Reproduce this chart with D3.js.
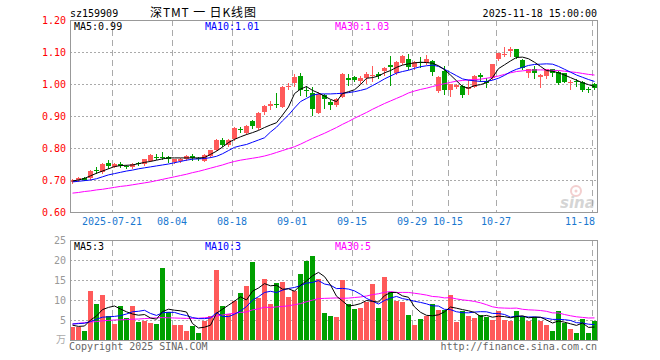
<!DOCTYPE html>
<html><head><meta charset="utf-8">
<script src="https://cdn.jsdelivr.net/npm/d3@7"></script>
<style>
body{margin:0;background:#fff}
svg{display:block}
text{font-family:"DejaVu Sans Mono","Liberation Mono",monospace;font-size:10px}
</style>
</head><body><svg id="c" width="660" height="360"></svg>
<script>
const dates = [
"2025-07-10","2025-07-11","2025-07-14","2025-07-15","2025-07-16","2025-07-17","2025-07-18","2025-07-21","2025-07-22","2025-07-23","2025-07-24","2025-07-25","2025-07-28","2025-07-29","2025-07-30","2025-07-31",
"2025-08-01","2025-08-04","2025-08-05","2025-08-06","2025-08-07","2025-08-08","2025-08-11","2025-08-12","2025-08-13","2025-08-14","2025-08-15","2025-08-18","2025-08-19","2025-08-20","2025-08-21","2025-08-22","2025-08-25","2025-08-26","2025-08-27","2025-08-28","2025-08-29",
"2025-09-01","2025-09-02","2025-09-03","2025-09-04","2025-09-05","2025-09-08","2025-09-09","2025-09-10","2025-09-11","2025-09-12","2025-09-15","2025-09-16","2025-09-17","2025-09-18","2025-09-19","2025-09-22","2025-09-23","2025-09-24","2025-09-25","2025-09-26","2025-09-29","2025-09-30",
"2025-10-09","2025-10-10","2025-10-13","2025-10-14","2025-10-15","2025-10-16","2025-10-17","2025-10-20","2025-10-21","2025-10-22","2025-10-23","2025-10-24","2025-10-27","2025-10-28","2025-10-29","2025-10-30","2025-10-31",
"2025-11-03","2025-11-04","2025-11-05","2025-11-06","2025-11-07","2025-11-10","2025-11-11","2025-11-12","2025-11-13","2025-11-14","2025-11-17","2025-11-18"];

const open = [.695,.700,.706,.705,.730,.725,.754,.742,.750,.745,.740,.752,.750,.760,.772,.772,.771,.755,.760,.765,.776,.768,.760,.775,.795,.825,.810,.828,.860,.847,
.885,.862,.912,.930,.937,.929,.990,1.002,1.026,.981,.973,.910,.966,.943,.934,.960,1.018,1.022,1.009,1.020,1.025,1.032,1.041,1.058,1.033,1.067,1.079,1.052,1.068,1.067,
1.073,.979,1.042,.981,.990,.994,.985,.992,1.027,1.009,1.018,1.078,1.090,1.104,1.108,1.075,1.035,1.046,1.023,1.025,1.046,1.038,1.033,1.005,1.009,1.007,.984,.999];
const high = [.703,.708,.709,.730,.742,.752,.763,.752,.755,.748,.752,.756,.767,.780,.780,.788,.776,.767,.769,.777,.781,.772,.780,.795,.827,.832,.827,.866,.866,.871,
.888,.912,.933,.948,.973,.994,1.002,1.032,1.034,.993,.992,.976,.970,.950,.955,1.033,1.030,1.025,1.024,1.036,1.055,1.036,1.054,1.087,1.071,1.092,1.093,1.072,1.083,1.092,
1.076,1.025,1.055,1.000,.999,.996,1.012,1.027,1.034,1.018,1.064,1.098,1.115,1.115,1.110,1.077,1.048,1.055,1.030,1.048,1.048,1.040,1.035,1.012,1.015,1.010,.990,1.002];
const low = [.692,.697,.699,.703,.723,.723,.738,.740,.740,.737,.738,.746,.748,.758,.765,.765,.755,.752,.757,.763,.764,.762,.758,.773,.793,.805,.806,.825,.850,.845,
.861,.860,.905,.922,.928,.927,.983,.993,.965,.962,.902,.908,.925,.923,.930,.958,.997,1.008,1.003,1.003,1.008,1.020,1.028,.998,1.030,1.064,1.046,1.048,1.052,1.064,
1.028,.975,.968,.964,.986,.959,.970,.990,1.008,.990,1.016,1.076,1.088,1.088,1.080,1.047,1.023,1.020,.990,1.020,1.025,1.000,1.005,.985,.995,.979,.975,.985];
const close = [.700,.705,.701,.728,.727,.750,.744,.750,.744,.743,.750,.750,.765,.778,.770,.770,.767,.765,.766,.775,.768,.765,.778,.793,.825,.810,.825,.862,.857,.869,
.869,.910,.931,.937,.935,.992,.995,1.023,.981,.978,.923,.969,.952,.933,.952,1.031,1.014,1.012,1.020,1.032,1.028,1.025,1.051,1.054,1.069,1.087,1.054,1.069,1.065,1.079,
1.038,1.023,.981,.999,.997,.966,.990,1.025,1.023,1.004,1.062,1.096,1.093,1.110,1.083,1.049,1.046,1.034,1.027,1.046,1.035,1.004,1.007,1.007,1.006,.981,.982,.987];

const ma5 = [.697,.700,.705,.713,.721,.728,.735,.742,.745,.746,.747,.751,.755,.758,.762,.766,.769,.769,.769,.769,.769,.769,.770,.780,.790,.803,.817,.827,.835,.842,
.848,.855,.864,.872,.879,.903,.928,.970,.984,.992,.980,.972,.962,.952,.945,.970,.976,.982,.998,1.018,1.020,1.025,1.035,1.042,1.052,1.059,1.063,1.066,1.068,1.067,
1.065,1.057,1.045,1.028,1.010,.992,.987,.995,.998,1.004,1.020,1.048,1.060,1.072,1.083,1.084,1.079,1.068,1.055,1.042,1.040,1.035,1.028,1.020,1.012,1.004,.998,.992];
const ma10 = [.694,.696,.698,.700,.704,.710,.716,.720,.724,.728,.731,.735,.738,.741,.744,.747,.750,.754,.758,.762,.765,.766,.767,.770,.774,.782,.792,.802,.807,.811,
.818,.825,.832,.850,.865,.885,.903,.925,.945,.955,.965,.969,.969,.969,.970,.971,.973,.976,.980,.985,.995,1.005,1.016,1.025,1.034,1.039,1.043,1.049,1.054,1.057,
1.059,1.055,1.046,1.036,1.026,1.016,1.012,1.010,1.008,1.008,1.012,1.018,1.027,1.038,1.046,1.052,1.058,1.061,1.062,1.063,1.062,1.055,1.046,1.037,1.028,1.021,1.014,1.008];
const ma30 = [.659,.661,.664,.666,.669,.671,.674,.677,.680,.682,.685,.688,.691,.694,.698,.702,.706,.710,.714,.718,.723,.727,.732,.737,.742,.747,.753,.758,.762,.765,
.768,.771,.775,.780,.786,.792,.798,.804,.812,.821,.830,.838,.846,.855,.864,.874,.883,.893,.902,.911,.921,.930,.939,.947,.955,.963,.972,.978,.983,.987,
.992,.997,1.001,1.005,1.009,1.011,1.013,1.014,1.015,1.018,1.021,1.025,1.030,1.035,1.039,1.041,1.043,1.044,1.044,1.044,1.043,1.042,1.040,1.038,1.036,1.033,1.030,1.028];

const volume = [3.3,3.3,2.25,12.25,9.0,11.25,6.0,4.0,8.5,5.5,8.5,4.5,4.8,4.3,4.0,18.1,7.1,3.75,3.75,2.3,3.5,1.8,4.8,6.0,17.5,8.5,6.5,9.8,11.7,13.5,
19.5,10.5,15.25,9.0,14.3,14.5,10.75,12.25,16.5,19.75,21.0,15.2,6.8,6.0,5.75,15.0,9.0,7.75,8.0,9.6,14.0,8.0,15.75,12.0,9.8,9.6,6.25,3.75,5.25,6.0,
9.0,7.5,7.5,11.25,4.5,7.25,6.0,5.5,6.25,5.75,5.0,7.25,5.0,4.75,7.25,6.0,4.75,5.75,4.75,3.75,2.25,7.25,4.25,2.75,1.75,5.25,1.75,4.75];
const vma5 = [3.7,3.4,3.5,5.0,6.0,7.6,8.15,8.5,7.75,7.05,6.5,6.2,6.36,5.5,5.2,7.1,7.7,7.45,7.3,7.0,4.1,3.0,3.2,3.7,6.7,7.7,8.7,9.7,10.8,10.0,
12.2,13.0,14.1,13.55,13.7,12.7,12.8,12.2,13.7,14.75,16.05,16.9,15.85,13.75,10.95,9.75,8.5,8.7,9.1,9.87,9.67,9.47,11.07,11.87,11.9,11.03,10.68,8.28,6.93,6.17,
6.05,6.3,7.05,8.25,7.95,7.6,7.3,6.9,5.9,6.15,5.7,5.95,5.85,5.55,5.85,6.05,5.55,5.7,5.7,5.0,4.25,4.75,4.45,4.05,3.65,4.25,3.15,3.25];
const vma10 = [4.0,4.1,4.2,4.6,5.2,5.7,5.8,5.9,6.1,6.5,7.06,7.18,7.43,6.64,6.14,6.82,6.93,6.9,6.43,6.11,5.61,5.34,5.34,5.51,6.86,5.9,5.84,6.45,7.24,8.36,
9.96,10.83,11.88,12.18,11.86,12.46,12.88,13.13,13.6,14.23,14.38,14.85,14.0,13.7,12.85,12.9,12.73,12.28,11.43,10.41,9.71,8.99,9.89,10.49,10.89,10.35,10.08,9.68,9.4,9.04,
8.54,8.49,7.67,7.59,7.06,6.83,6.8,6.98,7.08,7.05,6.65,6.63,6.38,5.73,6.0,5.88,5.75,5.78,5.63,5.43,5.15,5.15,5.08,4.88,4.33,4.25,3.95,3.85];
const vma30 = [4.0,4.2,4.3,4.5,4.6,4.8,4.9,5.0,5.05,5.1,5.2,5.25,5.35,5.45,5.55,5.6,5.55,5.5,5.45,5.4,5.4,5.45,5.55,5.7,6.0,6.25,6.5,6.7,6.9,7.0,
7.54,7.78,8.22,8.11,8.28,8.39,8.55,8.83,9.09,9.57,9.98,10.34,10.41,10.46,10.52,10.42,10.48,10.62,10.76,11.0,11.35,11.56,11.92,12.12,11.87,11.9,11.89,11.69,11.48,11.23,
10.88,10.78,10.52,10.59,10.27,10.03,9.87,9.64,9.3,8.83,8.3,8.04,7.98,7.93,7.98,7.68,7.54,7.48,7.37,7.17,6.78,6.76,6.37,6.06,5.8,5.65,5.5,5.53];

const tickDates = ["2025-07-21","2025-08-04","2025-08-18","2025-09-01","2025-09-15","2025-09-29","2025-10-15","2025-10-27","2025-11-18"];
const tickLabels = ["2025-07-21","08-04","08-18","09-01","09-15","09-29","10-15","10-27","11-18"];
const priceTicks = [0.6,0.7,0.8,0.9,1.0,1.1,1.2];
const volTicks = [5,10,15,20,25];
const headerTexts = {code:"sz159909", title:"深TMT 一 日K线图", time:"2025-11-18 15:00:00"};
const priceLegend = [["MA5:0.99","#000"],["MA10:1.01","#00f"],["MA30:1.03","#f0f"]];
const volLegend = [["MA5:3","#000"],["MA10:3","#00f"],["MA30:5","#f0f"]];

const RED="#ff5a5a", GREEN="#00a000", GRID="#aaa", BORDER="#999";
const L=70,R=598,PT=20,PB=212,VT=240,VB=340;
const svg=d3.select("#c");
const x=d3.scaleBand().domain(dates).range([L,R]).padding(0);
const bw=x.bandwidth();
const y=d3.scaleLinear().domain([0.6,1.2]).range([PB,PT]);
const yv=d3.scaleLinear().domain([0,25]).range([VB,VT]);
const data=dates.map((d,i)=>({d,i,o:open[i],h:high[i],l:low[i],c:close[i],v:volume[i],up:close[i]>=open[i]}));

// header
svg.append("text").attr("x",70).attr("y",17).attr("fill","#000").text(headerTexts.code);
svg.append("text").attr("x",150).attr("y",17).attr("fill","#000")
  .attr("textLength",106).attr("lengthAdjust","spacing")
  .style("font-family","'Noto Sans CJK SC',sans-serif").style("font-size","12px").style("white-space","pre").text(headerTexts.title);
svg.append("text").attr("x",597).attr("y",17).attr("text-anchor","end").attr("fill","#000").text(headerTexts.time);

// watermark
const wm=svg.append("g").attr("opacity",0.35);
wm.append("circle").attr("cx",576).attr("cy",191).attr("r",5).attr("fill","none").attr("stroke","#d77").attr("stroke-width",2);
wm.append("circle").attr("cx",576).attr("cy",191).attr("r",1.5).attr("fill","#d77");
wm.append("text").attr("x",560).attr("y",208).attr("fill","#888")
  .style("font-family","'DejaVu Sans',sans-serif").style("font-size","15px").style("font-weight","bold").style("font-style","italic").text("sina");

function panel(top,bottom,yScale,hTicks){
  const g=svg.append("g");
  g.selectAll(".hg").data(hTicks).enter().append("line")
    .attr("x1",L).attr("x2",R-1).attr("y1",d=>Math.round(yScale(d))+0.5).attr("y2",d=>Math.round(yScale(d))+0.5)
    .attr("stroke",GRID).attr("stroke-dasharray","2,2");
  g.selectAll(".vg").data(tickDates).enter().append("line")
    .attr("x1",d=>x(d)+0.5).attr("x2",d=>x(d)+0.5).attr("y1",top).attr("y2",bottom)
    .attr("stroke",GRID).attr("stroke-dasharray","6,4");
  return g;
}
panel(PT,PB,y,[0.7,0.8,0.9,1.0,1.1]);
panel(VT,VB,yv,[5,10,15,20]);

// candles
const cg=svg.append("g").attr("shape-rendering","crispEdges");
cg.selectAll(".wick").data(data).enter().append("line")
  .attr("x1",d=>x(d.d)+2.5).attr("x2",d=>x(d.d)+2.5)
  .attr("y1",d=>Math.round(y(d.h))).attr("y2",d=>Math.round(y(d.l))+1)
  .attr("stroke",d=>d.up?RED:GREEN);
cg.selectAll(".body").data(data).enter().append("rect")
  .attr("x",d=>x(d.d)).attr("width",bw-1)
  .attr("y",d=>Math.round(y(Math.max(d.o,d.c))))
  .attr("height",d=>Math.max(1,Math.round(y(Math.min(d.o,d.c)))-Math.round(y(Math.max(d.o,d.c)))))
  .attr("fill",d=>d.up?RED:GREEN);

// volume bars
cg.selectAll(".vol").data(data).enter().append("rect")
  .attr("x",d=>x(d.d)).attr("width",bw-1)
  .attr("y",d=>Math.round(yv(d.v))).attr("height",d=>VB-Math.round(yv(d.v)))
  .attr("fill",d=>d.up?RED:GREEN);

// MA lines
function maLine(arr,scale,color){
  const line=d3.line().x((v,i)=>x(dates[i])+2.5).y(v=>scale(v));
  svg.append("path").attr("d",line(arr)).attr("fill","none").attr("stroke",color).attr("stroke-width",1);
}
maLine(ma30,y,"#f0f");maLine(ma10,y,"#00f");maLine(ma5,y,"#000");
maLine(vma30,yv,"#f0f");maLine(vma10,yv,"#00f");maLine(vma5,yv,"#000");

// borders
svg.append("rect").attr("x",L+0.5).attr("y",PT+0.5).attr("width",R-L-1).attr("height",PB-PT).attr("fill","none").attr("stroke",BORDER);
svg.append("rect").attr("x",L+0.5).attr("y",VT+0.5).attr("width",R-L-1).attr("height",VB-VT).attr("fill","none").attr("stroke",BORDER);

// axes
const ay=svg.append("g").attr("transform",`translate(${L},0)`)
  .call(d3.axisLeft(y).tickValues(priceTicks).tickFormat(d3.format(".2f")).tickSize(0).tickPadding(4));
ay.select(".domain").remove();
ay.selectAll("text").attr("fill","#f00").style("font-family","'DejaVu Sans Mono',monospace").style("font-size","10px");

const av=svg.append("g").attr("transform",`translate(${L},0)`)
  .call(d3.axisLeft(yv).tickValues(volTicks).tickSize(0).tickPadding(4));
av.select(".domain").remove();
av.selectAll("text").attr("fill","#999").style("font-family","'DejaVu Sans Mono',monospace").style("font-size","10px");
svg.append("text").attr("x",66).attr("y",343).attr("text-anchor","end").attr("fill","#aaa")
  .style("font-family","'Noto Sans CJK SC',sans-serif").style("font-size","10px").text("万");

const ax=svg.append("g").attr("transform",`translate(${-bw/2},${PB})`)
  .call(d3.axisBottom(x).tickValues(tickDates).tickFormat((d,i)=>tickLabels[i]).tickSize(0).tickPadding(6));
ax.select(".domain").remove();
ax.selectAll("text").attr("fill","#1a78d0").style("font-family","'DejaVu Sans Mono',monospace").style("font-size","10px")
  .attr("text-anchor",(d,i)=>i===tickDates.length-1?"end":"middle")
  .attr("dx",(d,i)=>i===tickDates.length-1?"3":"0");

// legends
const lx=[74,205,335];
priceLegend.forEach((t,i)=>svg.append("text").attr("x",lx[i]).attr("y",30).attr("fill",t[1]).text(t[0]));
volLegend.forEach((t,i)=>svg.append("text").attr("x",lx[i]).attr("y",250).attr("fill",t[1]).text(t[0]));

// footer
svg.append("text").attr("x",69).attr("y",350).attr("fill","#666").text("Copyright 2025 SINA.COM");
svg.append("text").attr("x",597).attr("y",350).attr("text-anchor","end").attr("fill","#666").text("http://finance.sina.com.cn");
</script></body></html>
